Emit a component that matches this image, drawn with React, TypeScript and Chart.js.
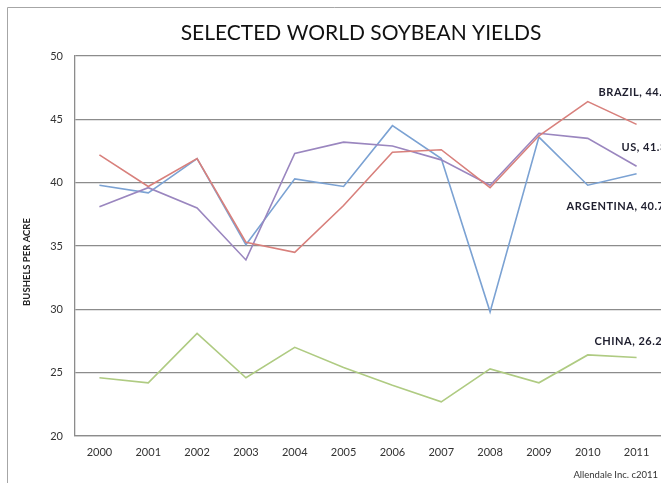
import React, { useEffect, useRef } from "react";
import { Chart, registerables } from "chart.js";

Chart.register(...registerables);

const years = ["2000", "2001", "2002", "2003", "2004", "2005", "2006", "2007", "2008", "2009", "2010", "2011"];
const brazil = [42.2, 39.7, 41.9, 35.3, 34.5, 38.2, 42.4, 42.6, 39.6, 43.7, 46.4, 44.6];
const us = [38.1, 39.6, 38.0, 33.9, 42.3, 43.2, 42.9, 41.8, 39.8, 43.9, 43.5, 41.3];
const argentina = [39.8, 39.2, 41.9, 35.1, 40.3, 39.7, 44.5, 41.9, 29.8, 43.6, 39.8, 40.7];
const china = [24.6, 24.2, 28.1, 24.6, 27.0, 25.4, 24.0, 22.7, 25.3, 24.2, 26.4, 26.2];
const seriesNames = ["BRAZIL", "US", "ARGENTINA", "CHINA"];
const yTicks = [20, 25, 30, 35, 40, 45, 50];
const chartTitle = "SELECTED WORLD SOYBEAN YIELDS";
const yTitle = "BUSHELS PER ACRE";
const footer = "Allendale Inc. c2011";

const FONT = "Lato, 'Open Sans', sans-serif";

// label offsets (px) from each series' last point
const labelOffsets = [
  { dx: -38, dy: -32 },
  { dx: -15, dy: -19 },
  { dx: -70, dy: 33 },
  { dx: -42, dy: -16 },
];

const decorPlugin = {
  id: "decor",
  beforeDraw(chart: any) {
    const ctx = chart.ctx;
    ctx.save();
    ctx.strokeStyle = "#a6a6a6";
    ctx.lineWidth = 1;
    ctx.beginPath();
    ctx.moveTo(7.5, chart.height);
    ctx.lineTo(7.5, 7.5);
    ctx.lineTo(chart.width, 7.5);
    ctx.stroke();
    ctx.restore();
  },
  afterDraw(chart: any) {
    const ctx = chart.ctx;
    // main title
    ctx.save();
    ctx.fillStyle = "#111";
    ctx.font = `21px ${FONT}`;
    ctx.textAlign = "center";
    ctx.textBaseline = "middle";
    ctx.fillText(chartTitle, 361, 33);
    ctx.restore();

    // y axis title
    ctx.save();
    ctx.fillStyle = "#222";
    ctx.font = `bold 9.5px ${FONT}`;
    ctx.textAlign = "center";
    ctx.textBaseline = "middle";
    ctx.translate(27, 262);
    ctx.rotate(-Math.PI / 2);
    ctx.fillText(yTitle, 0, 0);
    ctx.restore();

    ctx.save();
    ctx.fillStyle = "#333";
    ctx.font = `9.5px ${FONT}`;
    ctx.textAlign = "right";
    ctx.textBaseline = "middle";
    ctx.fillText(footer, 658, 475);
    ctx.restore();

    // data labels at series ends
    ctx.save();
    ctx.fillStyle = "#1e1e2e";
    ctx.font = `bold 11px ${FONT}`;
    try {
      (ctx as any).letterSpacing = "0.5px";
    } catch (e) {}
    ctx.textAlign = "left";
    ctx.textBaseline = "middle";
    chart.data.datasets.forEach((ds: any, i: number) => {
      const meta = chart.getDatasetMeta(i);
      const last = meta.data[meta.data.length - 1];
      const val = ds.data[ds.data.length - 1];
      const off = labelOffsets[i];
      ctx.fillText(`${seriesNames[i]}, ${val.toFixed(1)}`, last.x + off.dx, last.y + off.dy);
    });
    ctx.restore();
  },
};

export default function App() {
  const ref = useRef<HTMLCanvasElement | null>(null);
  useEffect(() => {
    if (!ref.current) return;
    const chart = new Chart(ref.current, {
      type: "line",
      data: {
        labels: years,
        datasets: [
          { label: seriesNames[0], data: brazil, borderColor: "#d8807c", backgroundColor: "#d8807c" },
          { label: seriesNames[1], data: us, borderColor: "#9a86bf", backgroundColor: "#9a86bf" },
          { label: seriesNames[2], data: argentina, borderColor: "#7ba2d3", backgroundColor: "#7ba2d3" },
          { label: seriesNames[3], data: china, borderColor: "#afcb82", backgroundColor: "#afcb82" },
        ].map((d) => ({ ...d, borderWidth: 1.6, pointRadius: 0, tension: 0, fill: false })),
      },
      options: {
        responsive: false,
        animation: false,
        layout: { padding: { left: 0, right: 0, top: 56, bottom: 0 } },
        plugins: {
          legend: { display: false },
          tooltip: { enabled: false },
          title: { display: false },
        },
        scales: {
          x: {
            type: "category",
            offset: true,
            grid: { display: false, drawTicks: false },
            border: { display: true, color: "#8c8c8c", width: 1.3 },
            ticks: { color: "#333", font: { family: FONT, size: 11 }, padding: 10, maxRotation: 0, autoSkip: false },
            afterFit: (s: any) => {
              s.height = 47;
            },
          },
          y: {
            min: 20,
            max: 50,
            afterBuildTicks: (s: any) => {
              s.ticks = yTicks.map((v) => ({ value: v }));
            },
            grid: { color: "#8c8c8c", lineWidth: 1.3, drawTicks: false },
            border: { display: true, color: "#8c8c8c", width: 1.3 },
            ticks: { color: "#333", font: { family: FONT, size: 11 }, padding: 12 },
            afterFit: (s: any) => {
              s.width = 75;
            },
          },
        },
      },
      plugins: [decorPlugin],
    });
    return () => chart.destroy();
  }, []);
  return (
    <div style={{ position: "absolute", left: 0, top: 0, width: 661, height: 483 }}>
      <canvas ref={ref} width={661} height={483} style={{ display: "block", width: 661, height: 483 }} />
    </div>
  );
}
